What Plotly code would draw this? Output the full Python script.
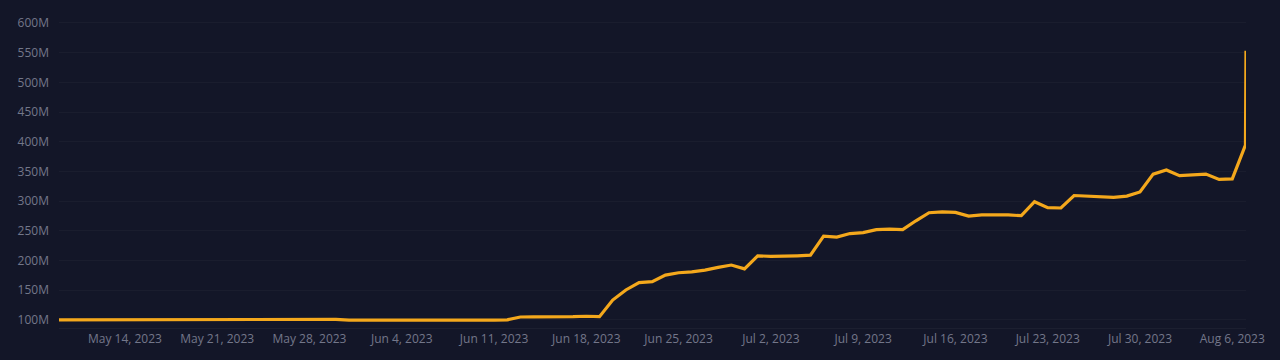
import pandas as pd
import plotly.graph_objects as go

# Daily dates (May 9 – Aug 7, 2023) plus a final intraday reading on Aug 7
dates = list(pd.date_range("2023-05-09", "2023-08-07", freq="D").strftime("%Y-%m-%d")) + ["2023-08-07 01:00"]

# Values in millions
values_m = [
    # May 9 - May 31
    100.3, 100.3, 100.3, 100.3, 100.3, 100.4, 100.4, 100.4, 100.4, 100.5,
    100.5, 100.5, 100.6, 100.6, 100.7, 100.8, 100.9, 101.0, 101.1, 101.2,
    101.2, 101.0, 99.6,
    # Jun 1 - Jun 30
    99.5, 99.5, 99.5, 99.6, 99.6, 99.5, 99.4, 99.4, 99.5, 99.5,
    99.6, 100.2, 105.0, 105.3, 105.2, 105.3, 105.5, 106.3, 105.6, 133.5,
    150.5, 163.0, 164.5, 175.5, 179.5, 181.0, 184.0, 188.5, 192.5, 186.0,
    # Jul 1 - Jul 31
    208.0, 207.0, 207.0, 208.0, 209.0, 241.0, 239.5, 245.5, 247.0, 252.0,
    253.0, 252.0, 267.0, 280.5, 282.0, 281.0, 275.0, 277.0, 277.0, 277.0,
    275.5, 299.0, 289.0, 288.5, 309.5, 308.5, 307.0, 306.5, 308.5, 315.5,
    345.5,
    # Aug 1 - Aug 7, then the late spike
    352.5, 343.0, 344.0, 345.5, 336.5, 337.5, 394.5, 553.0,
]
assert len(dates) == len(values_m)
values = [v * 1e6 for v in values_m]

BG = "#131628"
TXT = "#73778a"
GRID = "rgba(255,255,255,0.03)"
LINE = "#F4A81C"

fig = go.Figure(
    go.Scatter(
        x=dates,
        y=values,
        mode="lines",
        line=dict(color=LINE, width=3.2),
        hoverinfo="x+y",
    )
)

fig.update_layout(
    width=1280,
    height=360,
    paper_bgcolor=BG,
    plot_bgcolor=BG,
    margin=dict(l=59, r=34, t=14, b=32),
    showlegend=False,
    font=dict(family="Open Sans", size=12, color=TXT),
)

fig.update_xaxes(
    type="date",
    range=["2023-05-09", "2023-08-07 01:00"],
    tick0="2023-05-14",
    dtick=7 * 86400000,
    tickformat="%b %-d, %Y",
    showgrid=False,
    zeroline=False,
    showline=True,
    linecolor="rgba(255,255,255,0.04)",
    linewidth=1,
    ticks="",
    tickfont=dict(color=TXT, size=12),
)

fig.update_yaxes(
    range=[86.5e6, 615e6],
    tick0=100e6,
    dtick=50e6,
    tickformat="~s",
    showgrid=True,
    gridcolor=GRID,
    gridwidth=1,
    zeroline=False,
    showline=False,
    ticks="",
    ticklabelstandoff=9,
    tickfont=dict(color=TXT, size=12),
)

fig.write_html(
    "out.html",
    config={"displayModeBar": False},
    post_script="document.body.style.margin='0';document.body.style.background='%s';" % BG,
)
